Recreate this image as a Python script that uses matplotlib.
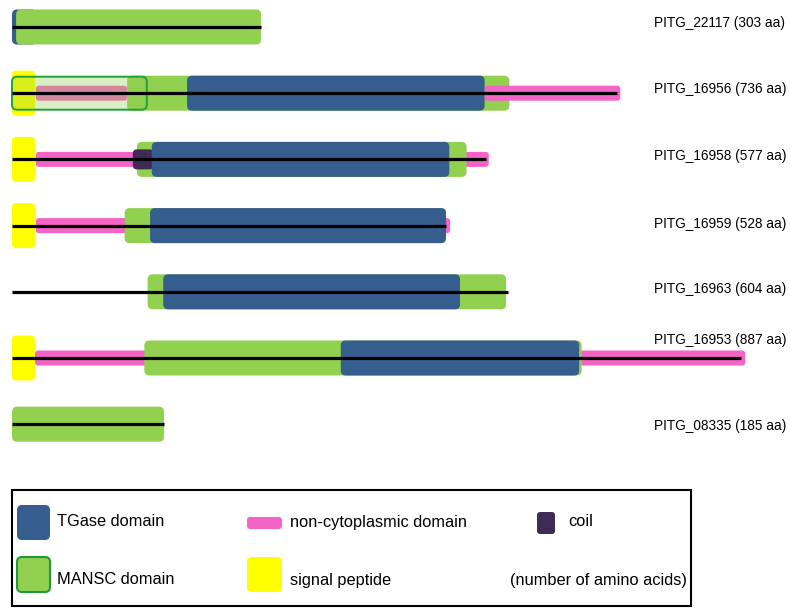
import matplotlib
matplotlib.use("Agg")
import matplotlib.pyplot as plt
from matplotlib.patches import FancyBboxPatch, Rectangle

plt.rcParams['font.family'] = ['Liberation Sans', 'DejaVu Sans']

# ---------------- data ----------------
proteins = ["PITG_22117", "PITG_16956", "PITG_16958", "PITG_16959",
            "PITG_16963", "PITG_16953", "PITG_08335"]
lengths = [303, 736, 577, 528, 604, 887, 185]

# domains per protein: (type, start aa, end aa), drawn in list order
domains_22117 = [("TGase", 0, 30), ("MANSC", 5, 303)]
domains_16956 = [("MANSC", 140, 605), ("TGase", 213, 575), ("noncyto", 575, 740),
                 ("noncyto", 29, 140), ("signal", 0, 28), ("MANSC_box", 0, 164)]
domains_16958 = [("noncyto", 29, 580), ("MANSC", 152, 553), ("coil", 147, 172),
                 ("TGase", 170, 532), ("signal", 0, 28)]
domains_16959 = [("noncyto", 29, 533), ("MANSC", 137, 528), ("TGase", 168, 528),
                 ("signal", 0, 28)]
domains_16963 = [("MANSC", 165, 601), ("TGase", 184, 545)]
domains_16953 = [("noncyto", 28, 892), ("MANSC", 161, 693), ("TGase", 400, 690),
                 ("signal", 0, 28)]
domains_08335 = [("MANSC", 0, 185)]
domains = [domains_22117, domains_16956, domains_16958, domains_16959,
           domains_16963, domains_16953, domains_08335]

legend_labels = [("TGase", "TGase domain"), ("noncyto", "non-cytoplasmic domain"),
                 ("coil", "coil"), ("MANSC_leg", "MANSC domain"),
                 ("signal", "signal peptide")]
legend_note = "(number of amino acids)"

# ---------------- style ----------------
W, H = 790, 608
SCALE = 0.822      # px per aa
X0 = 12            # px of aa 0
ROW_Y0, ROW_DY = 27, 66.2
colors = {"TGase": "#355e8f", "MANSC": "#92d050", "noncyto": "#f463c6",
          "signal": "#ffff00", "coil": "#3e2c57"}
heights = {"TGase": 35, "MANSC": 35, "noncyto": 15, "signal": 45, "coil": 20,
           "MANSC_box": 33}
radius = {"TGase": 5, "MANSC": 5, "noncyto": 3, "signal": 4, "coil": 4,
          "MANSC_box": 5}
label_dy = [-4, -4, -3, -2, -3, -18, 2]

fig = plt.figure(figsize=(W / 100, H / 100), dpi=100)
ax = fig.add_axes([0, 0, 1, 1])
ax.set_xlim(-X0 / SCALE, (W - X0) / SCALE)
ax.set_ylim(H, 0)
ax.axis("off")

# pixel-space overlay axes for labels and legend
lax = fig.add_axes([0, 0, 1, 1])
lax.set_xlim(0, W)
lax.set_ylim(H, 0)
lax.axis("off")
lax.patch.set_alpha(0)


def rbox(x0, x1, yc, h, r_px, **kw):
    p = FancyBboxPatch((x0, yc - h / 2), x1 - x0, h,
                       boxstyle=f"round,pad=0,rounding_size={r_px / SCALE}",
                       mutation_aspect=SCALE, **kw)
    ax.add_patch(p)
    return p


for i, (name, L, doms) in enumerate(zip(proteins, lengths, domains)):
    yc = ROW_Y0 + i * ROW_DY
    for t, s, e in doms:
        if t == "MANSC_box":
            rbox(s, e, yc, heights[t], radius[t], facecolor=(0.57, 0.82, 0.31, 0.33),
                 edgecolor="#1fa03c", linewidth=1.4, zorder=3)
        else:
            rbox(s, e, yc, heights[t], radius[t], facecolor=colors[t],
                 edgecolor="none", zorder=2)
    ax.plot([0, L], [yc, yc], color="black", lw=2.3, solid_capstyle="butt", zorder=4)
    lax.text(654, yc + label_dy[i], f"{name} ({L} aa)", fontsize=9.85,
             va="center", ha="left")

# ---------------- legend ----------------
lax.add_patch(Rectangle((12, 490), 679, 116, facecolor="none", edgecolor="black",
                        linewidth=1.5))


def lbox(x0, y0, w, h, r, **kw):
    lax.add_patch(FancyBboxPatch((x0, y0), w, h,
                                 boxstyle=f"round,pad=0,rounding_size={r}", **kw))


lbox(17, 505, 33, 35, 5, facecolor=colors["TGase"], edgecolor="none")
lbox(247, 517, 35, 12, 3, facecolor=colors["noncyto"], edgecolor="none")
lbox(537, 512, 18, 22, 3, facecolor=colors["coil"], edgecolor="none")
lbox(17, 557, 33, 35, 5, facecolor=colors["MANSC"], edgecolor="#1f9a3c", linewidth=1.5)
lbox(247, 557, 35, 35, 5, facecolor=colors["signal"], edgecolor="none")
txt_pos = [(57, 522), (290, 522), (568, 522), (57, 580), (290, 580)]
for (key, lab), (tx, ty) in zip(legend_labels, txt_pos):
    lax.text(tx, ty, lab, fontsize=11.8, va="center", ha="left")
lax.text(510, 580, legend_note, fontsize=11.8, va="center", ha="left")

fig.savefig("out.png", dpi=100)
